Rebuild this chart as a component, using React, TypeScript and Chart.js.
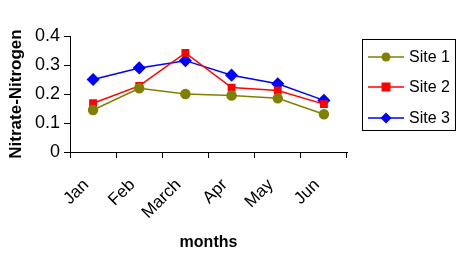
import React, { useEffect, useRef } from "react";
import { Chart, registerables } from "chart.js";

Chart.register(...registerables);

const months = ["Jan", "Feb", "March", "Apr", "May", "Jun"];
const site1 = [0.145, 0.22, 0.2, 0.195, 0.185, 0.13];
const site2 = [0.168, 0.228, 0.342, 0.222, 0.212, 0.165];
const site3 = [0.25, 0.29, 0.315, 0.265, 0.235, 0.178];
const seriesNames = ["Site 1", "Site 2", "Site 3"];
const seriesColors = ["#808000", "#FF0000", "#0000FF"];
const seriesMarkers = ["circle", "rect", "rectRot"];
const yTicks = [0, 0.1, 0.2, 0.3, 0.4];
const yTitle = "Nitrate-Nitrogen";
const xTitle = "months";

const FONT = "'Liberation Sans', Arial, sans-serif";

function drawMarker(ctx: CanvasRenderingContext2D, style: string, x: number, y: number, color: string) {
  ctx.save();
  ctx.fillStyle = color;
  ctx.beginPath();
  if (style === "circle") {
    ctx.arc(x, y, 4.5, 0, Math.PI * 2);
  } else if (style === "rect") {
    ctx.rect(x - 4.5, y - 4.5, 9, 9);
  } else {
    ctx.moveTo(x, y - 5.5);
    ctx.lineTo(x + 5.5, y);
    ctx.lineTo(x, y + 5.5);
    ctx.lineTo(x - 5.5, y);
    ctx.closePath();
  }
  ctx.fill();
  ctx.restore();
}

const legendPlugin = {
  id: "boxLegend",
  afterDraw(chart: any) {
    const ctx = chart.ctx as CanvasRenderingContext2D;
    ctx.save();
    ctx.strokeStyle = "#000";
    ctx.lineWidth = 1;
    ctx.strokeRect(362.5, 39.5, 93, 91);
    const ys = [57, 87, 118];
    seriesNames.forEach((name, i) => {
      const y = ys[i];
      ctx.strokeStyle = seriesColors[i];
      ctx.lineWidth = 1.5;
      ctx.beginPath();
      ctx.moveTo(368, y);
      ctx.lineTo(404, y);
      ctx.stroke();
      drawMarker(ctx, seriesMarkers[i], 386, y, seriesColors[i]);
      ctx.fillStyle = "#000";
      ctx.font = "16px " + FONT;
      ctx.textBaseline = "middle";
      ctx.textAlign = "left";
      ctx.fillText(name, 409, y + 1);
    });
    // y-axis title
    ctx.save();
    ctx.translate(16, 94);
    ctx.rotate(-Math.PI / 2);
    ctx.font = "bold 17px " + FONT;
    ctx.fillStyle = "#000";
    ctx.textAlign = "center";
    ctx.textBaseline = "middle";
    ctx.fillText(yTitle, 0, 0);
    ctx.restore();
    ctx.restore();
  },
};

export default function App() {
  const ref = useRef<HTMLCanvasElement>(null);
  useEffect(() => {
    document.body.style.margin = "0";
    const data = [site1, site2, site3];
    const chart = new Chart(ref.current!, {
      type: "line",
      data: {
        labels: months,
        datasets: data.map((d, i) => ({
          label: seriesNames[i],
          data: d,
          borderColor: seriesColors[i],
          backgroundColor: seriesColors[i],
          pointBackgroundColor: seriesColors[i],
          pointBorderColor: seriesColors[i],
          pointStyle: seriesMarkers[i] as any,
          pointRadius: i === 2 ? 5.5 : 4.5,
          borderWidth: 1.5,
          tension: 0,
          fill: false,
        })),
      },
      options: {
        animation: false,
        responsive: false,
        events: [],
        layout: { padding: { top: 36, right: 112, left: 0, bottom: 0 } },
        plugins: { legend: { display: false }, tooltip: { enabled: false } },
        scales: {
          x: {
            offset: true,
            grid: { drawOnChartArea: false, drawTicks: true, tickLength: 6, offset: true, color: "#000" },
            border: { color: "#000", width: 1 },
            ticks: { color: "#000", font: { size: 17, family: FONT }, minRotation: 45, maxRotation: 45, padding: 17, labelOffset: -7 },
            title: { display: true, text: xTitle, color: "#000", font: { size: 16, weight: "bold", family: FONT }, padding: { top: 0, bottom: 4 } },
            afterFit: (s: any) => { s.height = 104; },
          },
          y: {
            min: 0,
            max: 0.4,
            afterBuildTicks: (s: any) => { s.ticks = yTicks.map((v) => ({ value: v })); },
            grid: { drawOnChartArea: false, drawTicks: true, tickLength: 6, color: "#000" },
            border: { color: "#000", width: 1 },
            ticks: { color: "#000", font: { size: 18, family: FONT }, padding: 4, callback: (v: any) => String(Math.round(Number(v) * 10) / 10) },
            afterFit: (s: any) => { s.width = 70; },
          },
        },
      },
      plugins: [legendPlugin],
    });
    return () => chart.destroy();
  }, []);
  return (
    <div style={{ width: 459, height: 256 }}>
      <canvas ref={ref} width={459} height={256} />
    </div>
  );
}
